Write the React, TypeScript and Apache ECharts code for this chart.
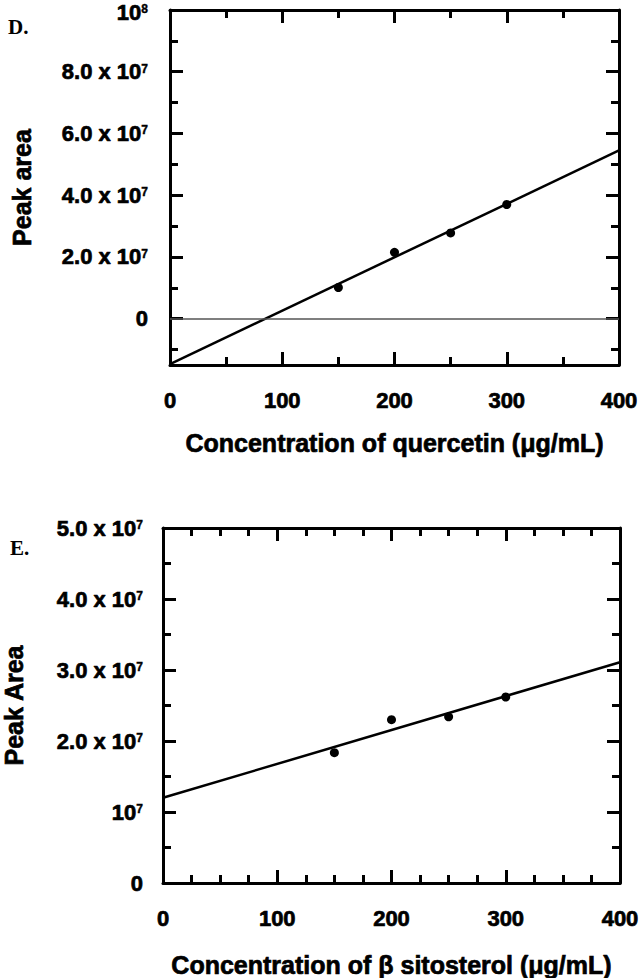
import React, { useEffect, useRef } from "react";
import * as echarts from "echarts";

// ---- Panel D: quercetin ----
const concQ = [150, 200, 250, 300];
const areaQ = [1.01e7, 2.15e7, 2.78e7, 3.7e7];
const fitQX = [0, 400];
const fitQY = [-1.47e7, 5.45e7];
const yTicksQ = [0, 2e7, 4e7, 6e7, 8e7, 1e8];
const yTickLabelsQ = ["0", "2.0 x 10^7", "4.0 x 10^7", "6.0 x 10^7", "8.0 x 10^7", "10^8"];
const yMinorQ = [-1e7, 1e7, 3e7, 5e7, 7e7, 9e7];

// ---- Panel E: beta sitosterol ----
const concS = [150, 200, 250, 300];
const areaS = [1.835e7, 2.3e7, 2.34e7, 2.62e7];
const fitSX = [0, 400];
const fitSY = [1.2e7, 3.11e7];
const yTicksS = [0, 1e7, 2e7, 3e7, 4e7, 5e7];
const yTickLabelsS = ["0", "10^7", "2.0 x 10^7", "3.0 x 10^7", "4.0 x 10^7", "5.0 x 10^7"];

const xTickLabels = ["0", "100", "200", "300", "400"];

const FONT = '"Liberation Sans", Arial, Helvetica, sans-serif';
const SERIF = '"Liberation Serif", "Times New Roman", serif';

function toRich(s: string, edge: boolean) {
  const i = s.indexOf("^");
  if (i < 0) return s;
  if (edge) return "{hi|" + s.slice(0, i) + "}{supHi|" + s.slice(i + 1) + "}";
  return s.slice(0, i) + "{sup|" + s.slice(i + 1) + "}";
}

function makeFormatter(ticks: number[], labels: string[], edgeValue?: number) {
  return (v: number) => {
    for (let k = 0; k < ticks.length; k++) {
      if (Math.abs(ticks[k] - v) < 1) return toRich(labels[k], edgeValue !== undefined && Math.abs(v - edgeValue) < 1);
    }
    return "";
  };
}

const heavy = { textBorderColor: "#000", textBorderWidth: 0.7 };

const supStyle = {
  fontSize: 12,
  fontWeight: "bold" as const,
  fontFamily: FONT,
  color: "#000",
  textBorderColor: "#000",
  textBorderWidth: 0.4,
  verticalAlign: "top" as const,
  padding: [2, 0, 0, 0],
};

const labelBase = {
  fontSize: 22,
  fontWeight: "bold" as const,
  fontFamily: FONT,
  color: "#000",
  ...heavy,
  rich: {
    sup: supStyle,
    supHi: { ...supStyle, padding: [6, 0, 0, 0] },
    hi: {
      fontSize: 22,
      fontWeight: "bold" as const,
      fontFamily: FONT,
      color: "#000",
      ...heavy,
      padding: [4, 0, 0, 0],
    },
  },
};

const nameStyle = {
  fontSize: 25,
  fontWeight: "bold" as const,
  fontFamily: FONT,
  color: "#000",
  ...heavy,
};

const lineW = 3;
const axisLine = { show: true, onZero: false, lineStyle: { color: "#000", width: lineW } };

export default function App() {
  const ref = useRef<HTMLDivElement>(null);

  useEffect(() => {
    if (!ref.current) return;
    const chart = echarts.init(ref.current, undefined, { renderer: "svg" });

    const xMajor = (gridIndex: number, position: "top" | "bottom", labels: boolean, minorSplit: number, name?: string, nameGap?: number) => ({
      type: "value" as const,
      gridIndex,
      position,
      min: 0,
      max: 400,
      interval: 100,
      axisLine,
      axisTick: { show: true, inside: true, length: 13, lineStyle: { color: "#000", width: lineW } },
      minorTick: { show: true, splitNumber: minorSplit, length: 8, lineStyle: { color: "#000", width: lineW } },
      splitLine: { show: false },
      axisLabel: labels
        ? {
            ...labelBase,
            margin: 24,
            formatter: (v: number) => xTickLabels[Math.round(v / 100)] ?? "",
          }
        : { show: false },
      name: name ?? "",
      nameLocation: "middle" as const,
      nameGap: nameGap ?? 0,
      nameTextStyle: nameStyle,
    });

    const gridBase = { containLabel: false, outerBoundsMode: "none" };

    const option: any = {
      animation: false,
      backgroundColor: "#fff",
      grid: [
        { ...gridBase, left: 170, top: 10, width: 449, height: 355 },
        { ...gridBase, left: 170, top: 10, width: 449, height: 355 },
        { ...gridBase, left: 163, top: 528, width: 457, height: 355 },
      ],
      xAxis: [
        xMajor(0, "bottom", true, 2, "Concentration of quercetin (μg/mL)", 65),
        xMajor(0, "top", false, 2),
        { type: "value", gridIndex: 1, min: 0, max: 400, show: false },
        xMajor(2, "bottom", true, 4, "Concentration of β sitosterol (μg/mL)", 69),
        xMajor(2, "top", false, 4),
      ],
      yAxis: [
        {
          type: "value",
          gridIndex: 0,
          position: "left",
          min: -1.5e7,
          max: 1e8,
          axisLine,
          axisTick: { show: true, inside: true, length: 13, customValues: yTicksQ, lineStyle: { color: "#000", width: lineW } },
          splitLine: { show: false },
          axisLabel: {
            ...labelBase,
            margin: 22,
            customValues: yTicksQ,
            formatter: makeFormatter(yTicksQ, yTickLabelsQ, 1e8),
          },
          name: "Peak area",
          nameLocation: "middle",
          nameRotate: 90,
          nameGap: 136,
          nameTextStyle: nameStyle,
        },
        {
          type: "value",
          gridIndex: 0,
          position: "right",
          min: -1.5e7,
          max: 1e8,
          axisLine,
          axisTick: { show: true, inside: true, length: 13, customValues: yTicksQ, lineStyle: { color: "#000", width: lineW } },
          splitLine: { show: false },
          axisLabel: { show: false },
        },
        {
          type: "value",
          gridIndex: 1,
          position: "left",
          min: -1.5e7,
          max: 1e8,
          axisLine: { show: false, onZero: false },
          axisTick: { show: true, inside: true, length: 8, customValues: yMinorQ, lineStyle: { color: "#000", width: lineW } },
          splitLine: { show: false },
          axisLabel: { show: false },
        },
        {
          type: "value",
          gridIndex: 1,
          position: "right",
          min: -1.5e7,
          max: 1e8,
          axisLine: { show: false, onZero: false },
          axisTick: { show: true, inside: true, length: 8, customValues: yMinorQ, lineStyle: { color: "#000", width: lineW } },
          splitLine: { show: false },
          axisLabel: { show: false },
        },
        {
          type: "value",
          gridIndex: 2,
          position: "left",
          min: 0,
          max: 5e7,
          interval: 1e7,
          axisLine,
          axisTick: { show: true, inside: true, length: 13, lineStyle: { color: "#000", width: lineW } },
          minorTick: { show: true, splitNumber: 2, length: 8, lineStyle: { color: "#000", width: lineW } },
          splitLine: { show: false },
          axisLabel: {
            ...labelBase,
            margin: 20,
            formatter: makeFormatter(yTicksS, yTickLabelsS),
          },
          name: "Peak Area",
          nameLocation: "middle",
          nameRotate: 90,
          nameGap: 137,
          nameTextStyle: nameStyle,
        },
        {
          type: "value",
          gridIndex: 2,
          position: "right",
          min: 0,
          max: 5e7,
          interval: 1e7,
          axisLine,
          axisTick: { show: true, inside: true, length: 13, lineStyle: { color: "#000", width: lineW } },
          minorTick: { show: true, splitNumber: 2, length: 8, lineStyle: { color: "#000", width: lineW } },
          splitLine: { show: false },
          axisLabel: { show: false },
        },
      ],
      series: [
        {
          type: "line",
          xAxisIndex: 0,
          yAxisIndex: 0,
          data: fitQX.map((x, i) => [x, fitQY[i]]),
          symbol: "none",
          lineStyle: { color: "#000", width: 2.5 },
          z: 3,
          markLine: {
            silent: true,
            symbol: "none",
            label: { show: false },
            lineStyle: { color: "#555", width: 1.5, type: "solid" },
            data: [{ yAxis: 0 }],
          },
        },
        {
          type: "scatter",
          xAxisIndex: 0,
          yAxisIndex: 0,
          data: concQ.map((x, i) => [x, areaQ[i]]),
          symbol: "circle",
          symbolSize: 9,
          itemStyle: { color: "#000", opacity: 1 },
          z: 4,
        },
        {
          type: "line",
          xAxisIndex: 3,
          yAxisIndex: 4,
          data: fitSX.map((x, i) => [x, fitSY[i]]),
          symbol: "none",
          lineStyle: { color: "#000", width: 2.5 },
          z: 3,
        },
        {
          type: "scatter",
          xAxisIndex: 3,
          yAxisIndex: 4,
          data: concS.map((x, i) => [x, areaS[i]]),
          symbol: "circle",
          symbolSize: 9,
          itemStyle: { color: "#000", opacity: 1 },
          z: 4,
        },
      ],
      graphic: [
        {
          type: "text",
          left: 8,
          top: 16,
          style: { text: "D.", font: `bold 21px ${SERIF}`, fill: "#000" },
        },
        {
          type: "text",
          left: 10,
          top: 537,
          style: { text: "E.", font: `bold 21px ${SERIF}`, fill: "#000" },
        },
      ],
    };

    chart.setOption(option);
    return () => chart.dispose();
  }, []);

  return (
    <div
      ref={ref}
      style={{ position: "fixed", left: 0, top: 0, width: 640, height: 978, background: "#fff" }}
    />
  );
}
